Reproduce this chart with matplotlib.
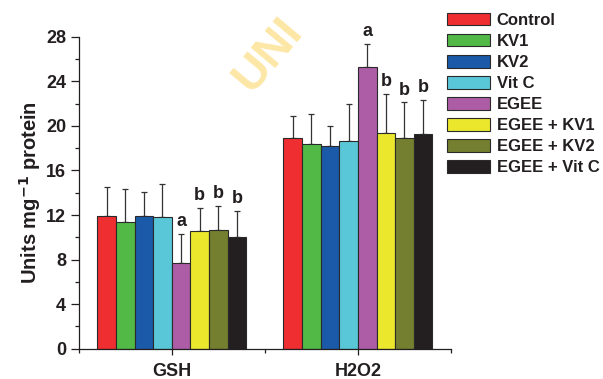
import numpy as np
import matplotlib
matplotlib.use('Agg')
import matplotlib.pyplot as plt
from matplotlib.ticker import MultipleLocator, FixedLocator

plt.rcParams['font.family'] = ['Liberation Sans', 'DejaVu Sans']
plt.rcParams['font.weight'] = 'bold'

# data
groups = ['GSH', 'H2O2']
treatments = ['Control', 'KV1', 'KV2', 'Vit C', 'EGEE',
              'EGEE + KV1', 'EGEE + KV2', 'EGEE + Vit C']
gsh_mean = [11.9, 11.4, 11.95, 11.8, 7.7, 10.6, 10.65, 10.0]
gsh_err = [2.6, 2.9, 2.1, 2.95, 2.6, 2.05, 2.15, 2.4]
h2o2_mean = [18.9, 18.4, 18.15, 18.6, 25.25, 19.35, 18.95, 19.25]
h2o2_err = [2.0, 2.7, 1.85, 3.4, 2.1, 3.5, 3.15, 3.1]
gsh_letters = ['', '', '', '', 'a', 'b', 'b', 'b']
h2o2_letters = ['', '', '', '', 'a', 'b', 'b', 'b']
colors = ['#EE2E31', '#52B947', '#1B5AA8', '#59C7D7', '#AD5DA5',
          '#EBE72C', '#757F30', '#231F20']

means = np.array([gsh_mean, h2o2_mean])
errs = np.array([gsh_err, h2o2_err])
letters = [gsh_letters, h2o2_letters]

fig = plt.figure(figsize=(6.03, 3.79), dpi=100)
ax = fig.add_axes([0.1305, 0.080, 0.6175, 0.823])
ax.set_facecolor('none')

x = np.arange(1, len(groups) + 1)
width = 0.1
for k in range(len(treatments)):
    pos = x - 0.35 + k * width
    ax.bar(pos, means[:, k], width, color=colors[k], edgecolor='#2a2a2a',
           linewidth=0.8, label=treatments[k], zorder=2)
    ax.errorbar(pos, means[:, k], yerr=[np.zeros(len(groups)), errs[:, k]],
                fmt='none', ecolor='#333333', elinewidth=0.9, capsize=2.5,
                capthick=0.9, zorder=1)
    for g in range(len(groups)):
        if letters[g][k]:
            ax.text(pos[g], means[g, k] + errs[g, k] + 0.35, letters[g][k],
                    ha='center', va='bottom', fontsize=13, fontweight='bold',
                    color='#231F20')

ax.set_xlim(0.5, 2.5)
ax.set_ylim(0, 28)
ax.set_xticks(x)
ax.set_xticklabels(groups)
ax.xaxis.set_minor_locator(FixedLocator([0.5, 1.5, 2.5]))
ax.yaxis.set_major_locator(MultipleLocator(4))
ax.yaxis.set_minor_locator(MultipleLocator(2))
ax.tick_params(axis='both', which='major', labelsize=13, color='#231F20',
               labelcolor='#231F20', width=0.9)
ax.tick_params(axis='y', which='major', length=6, pad=3)
ax.tick_params(axis='x', which='major', length=4, pad=6)
ax.tick_params(axis='both', which='minor', length=3, width=0.9, color='#231F20')
ax.spines['top'].set_visible(False)
ax.spines['right'].set_visible(False)
for s in ['left', 'bottom']:
    ax.spines[s].set_linewidth(0.9)
    ax.spines[s].set_color('#231F20')

ax.set_ylabel('Units mg$^{\\mathbf{-1}}$ protein', fontsize=14.5,
              fontweight='bold', color='#231F20', labelpad=2)

leg = fig.legend(loc='upper left', bbox_to_anchor=(0.741, 0.966),
                 frameon=False, fontsize=12, handlelength=2.6,
                 handleheight=0.78, handletextpad=0.4, labelspacing=0.36,
                 borderpad=0, borderaxespad=0)
for t in leg.get_texts():
    t.set_color('#231F20')

# watermark
fig.text(0.445, 0.855, 'UNI', rotation=50, fontsize=34, fontweight='bold',
         color='#FDE7A6', ha='center', va='center', zorder=0)

fig.savefig('out.png', dpi=100)
